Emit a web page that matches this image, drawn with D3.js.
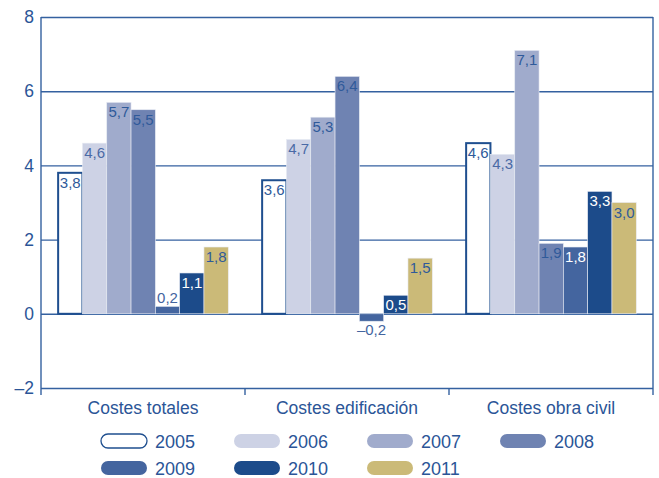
<!DOCTYPE html>
<html lang="es">
<head>
    <meta charset="utf-8">
    <title>Costes</title>
    <script type="text/javascript" src="https://d3js.org/d3.v7.min.js"></script>
    <style type="text/css">
        body { margin: 0; background: #fff; }
        svg { font-family: "Liberation Sans", Arial, sans-serif; }
    </style>
</head>
<body>
<script type="text/javascript">

    var categories = ["Costes totales", "Costes edificación", "Costes obra civil"];
    var years = ["2005", "2006", "2007", "2008", "2009", "2010", "2011"];
    var v2005 = [3.8, 3.6, 4.6];
    var v2006 = [4.6, 4.7, 4.3];
    var v2007 = [5.7, 5.3, 7.1];
    var v2008 = [5.5, 6.4, 1.9];
    var v2009 = [0.2, -0.2, 1.8];
    var v2010 = [1.1, 0.5, 3.3];
    var v2011 = [1.8, 1.5, 3.0];
    var yTicks = [-2, 0, 2, 4, 6, 8];

    var series = [v2005, v2006, v2007, v2008, v2009, v2010, v2011];
    var fills = ["#ffffff", "#cdd2e5", "#a0abcc", "#6f83b2", "#44659f", "#1c4b8a", "#cbba78"];
    var labelCol = ["#2f5a9a", "#4a6aa6", "#2f5a9a", "#2f5a9a", "#ffffff", "#ffffff", "#2f5a9a"];
    var blue = "#3461a0";
    var textBlue = "#2b5597";

    var W = 659, H = 478;
    var plotL = 41, plotR = 653, plotT = 17, plotB = 388;

    var svg = d3.select("body").append("svg")
        .attr("width", W)
        .attr("height", H);

    var y = d3.scaleLinear().domain([-2, 8]).range([plotB, plotT]);
    var x0 = d3.scaleBand().domain(categories).range([plotL, plotR]);
    var bw = x0.bandwidth();
    var x1 = d3.scaleBand().domain(years).range([bw * 0.084, bw * 0.918]);

    function fmt(v) {
        return d3.format(".1f")(Math.abs(v)).replace(".", ",");
    }

    // gridlines + y labels
    var yAxis = svg.append("g")
        .attr("transform", "translate(" + plotL + ",0)")
        .call(d3.axisLeft(y).tickValues(yTicks).tickSize(-(plotR - plotL)).tickPadding(7)
            .tickFormat(function(d) { return (d < 0 ? "\u2013" : "") + Math.abs(d); }));
    yAxis.select(".domain").remove();
    yAxis.selectAll("line").attr("stroke", blue).attr("stroke-width", 1.4);
    yAxis.selectAll("text").attr("fill", textBlue).attr("font-size", 17.5)
        .attr("font-family", "Liberation Sans, Arial, sans-serif");

    // bars
    var groups = svg.selectAll(".grp")
        .data(categories)
        .enter().append("g")
        .attr("class", "grp")
        .attr("transform", function(d) { return "translate(" + x0(d) + ",0)"; });

    years.forEach(function(yr, si) {
        groups.append("rect")
            .attr("x", x1(yr))
            .attr("width", x1.bandwidth())
            .attr("y", function(d, ci) { return y(Math.max(0, series[si][ci])); })
            .attr("height", function(d, ci) { return Math.abs(y(series[si][ci]) - y(0)); })
            .attr("fill", fills[si])
            .attr("stroke", si === 0 ? "#1f4f8f" : "#e8ebf3")
            .attr("stroke-width", si === 0 ? 2 : 0.6);
    });

    years.forEach(function(yr, si) {
        groups.append("text")
            .attr("x", x1(yr) + x1.bandwidth() / 2)
            .attr("text-anchor", "middle")
            .attr("font-size", 15)
            .attr("y", function(d, ci) {
                var v = series[si][ci];
                if (v < 0) return y(v) + 14;
                var h = y(0) - y(v);
                if (h < 16) return y(v) - 3;
                return y(v) + 15;
            })
            .attr("fill", function(d, ci) {
                var v = series[si][ci];
                if (y(0) - y(Math.abs(v)) < 16) return "#44659f";
                return labelCol[si];
            })
            .text(function(d, ci) {
                var v = series[si][ci];
                return (v < 0 ? "\u2013" : "") + fmt(v);
            });
    });

    // axes frame
    svg.append("line").attr("x1", plotL).attr("x2", plotL).attr("y1", plotT).attr("y2", plotB + 7)
        .attr("stroke", blue).attr("stroke-width", 1.4);
    svg.append("line").attr("x1", plotR).attr("x2", plotR).attr("y1", plotT).attr("y2", plotB + 7)
        .attr("stroke", blue).attr("stroke-width", 1.4);
    categories.forEach(function(c, i) {
        if (i === 0) return;
        svg.append("line").attr("x1", x0(c)).attr("x2", x0(c)).attr("y1", plotB).attr("y2", plotB + 7)
            .attr("stroke", blue).attr("stroke-width", 1.4);
    });

    svg.selectAll(".cat")
        .data(categories)
        .enter().append("text")
        .attr("class", "cat")
        .attr("x", function(d) { return x0(d) + bw / 2; })
        .attr("y", 414)
        .attr("text-anchor", "middle")
        .attr("font-size", 17.5)
        .attr("fill", textBlue)
        .text(function(d) { return d; });

    // legend
    var leg = svg.selectAll(".leg")
        .data(years)
        .enter().append("g")
        .attr("class", "leg")
        .attr("transform", function(d, i) {
            return "translate(" + (101 + (i % 4) * 133) + "," + (434 + Math.floor(i / 4) * 27) + ")";
        });

    leg.append("rect")
        .attr("width", 46).attr("height", 14).attr("rx", 7)
        .attr("fill", function(d, i) { return fills[i]; })
        .attr("stroke", function(d, i) { return i === 0 ? "#1f4f8f" : "none"; })
        .attr("stroke-width", 1.3);

    leg.append("text")
        .attr("x", 54).attr("y", 14)
        .attr("font-size", 18)
        .attr("fill", textBlue)
        .text(function(d) { return d; });

</script>
</body>
</html>
